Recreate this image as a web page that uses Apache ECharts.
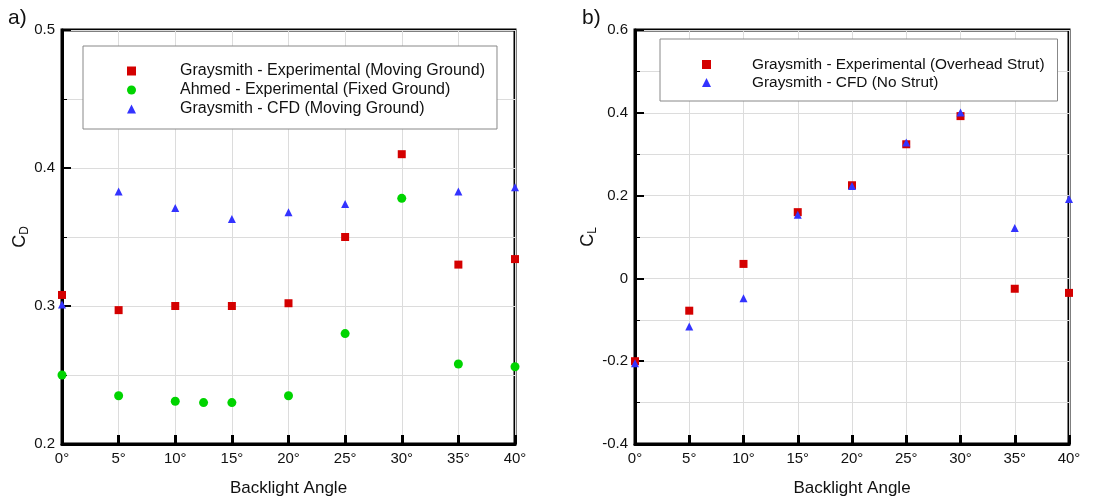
<!DOCTYPE html>
<html>
<head>
<meta charset="utf-8">
<script src="https://cdn.jsdelivr.net/npm/echarts@6/dist/echarts.min.js"></script>
<style>
html,body{margin:0;padding:0;background:#fff;}
#c{width:1104px;height:498px;}
</style>
</head>
<body>
<div id="c"></div>
<script>
// ---- data ----
const angles = [0, 5, 10, 15, 20, 25, 30, 35, 40];
const cdGraysmithExp = [0.308, 0.297, 0.300, 0.300, 0.302, 0.350, 0.410, 0.330, 0.334];
const ahmedAngles = [0, 5, 10, 12.5, 15, 20, 25, 30, 35, 40];
const cdAhmedExp = [0.250, 0.235, 0.231, 0.230, 0.230, 0.235, 0.280, 0.378, 0.258, 0.256];
const cfdAnglesCD = [0, 5, 10, 15, 20, 25, 35, 40];
const cdGraysmithCFD = [0.301, 0.383, 0.371, 0.363, 0.368, 0.374, 0.383, 0.386];
const clGraysmithExp = [-0.200, -0.078, 0.035, 0.160, 0.225, 0.324, 0.392, -0.025, -0.035];
const clGraysmithCFD = [-0.205, -0.116, -0.048, 0.154, 0.223, 0.328, 0.401, 0.122, 0.192];

const namesCD = ['Graysmith - Experimental (Moving Ground)', 'Ahmed - Experimental (Fixed Ground)', 'Graysmith - CFD (Moving Ground)'];
const namesCL = ['Graysmith - Experimental (Overhead Strut)', 'Graysmith - CFD (No Strut)'];

const RED = '#d40000', GREEN = '#00d400', BLUE = '#3333ff';
const FONT = 'Liberation Sans, Arial, sans-serif';

const zip = (xs, ys) => xs.map((x, i) => [x, ys[i]]);

function xAx(gi) {
  return {
    type: 'value', gridIndex: gi, min: 0, max: 40, interval: 5,
    name: 'Backlight Angle', nameLocation: 'middle', nameGap: 36,
    nameTextStyle: {fontFamily: FONT, fontSize: 17, color: '#111'},
    axisLine: {show: true, onZero: false, lineStyle: {color: '#000', width: 3}},
    axisTick: {show: true, inside: true, length: 9, lineStyle: {color: '#000', width: 3}},
    axisLabel: {formatter: v => v + '°', fontFamily: FONT, fontSize: 15, color: '#111', margin: 7},
    splitLine: {show: true, lineStyle: {color: '#dcdcdc', width: 1}}
  };
}
function yAx(gi, min, max, interval, nameRich, gap) {
  return {
    type: 'value', gridIndex: gi, min: min, max: max, interval: interval,
    name: nameRich, nameLocation: 'middle', nameRotate: 90, nameGap: gap,
    nameTextStyle: {fontFamily: FONT, color: '#111', rich: {
      c: {fontSize: 18, fontFamily: FONT, color: '#111'},
      s: {fontSize: 12, fontFamily: FONT, color: '#111', padding: [9, 0, 0, 0]}
    }},
    axisLine: {show: true, onZero: false, lineStyle: {color: '#000', width: 3}},
    axisTick: {show: true, inside: true, length: 9, lineStyle: {color: '#000', width: 2}},
    minorTick: {show: true, splitNumber: 2, length: 5, lineStyle: {color: '#000', width: 1}},
    minorSplitLine: {show: true, lineStyle: {color: '#dcdcdc', width: 1}},
    axisLabel: {fontFamily: FONT, fontSize: 15, color: '#111', margin: 7},
    splitLine: {show: true, lineStyle: {color: '#dcdcdc', width: 1}}
  };
}

const option = {
  backgroundColor: '#fff',
  animation: false,
  textStyle: {fontFamily: FONT},
  grid: [
    {left: 62, top: 30, width: 453, height: 414, outerBoundsMode: 'none', containLabel: false,
     show: true, borderColor: '#000', borderWidth: 3, backgroundColor: 'transparent'},
    {left: 635, top: 30, width: 434, height: 414, outerBoundsMode: 'none', containLabel: false,
     show: true, borderColor: '#000', borderWidth: 3, backgroundColor: 'transparent'}
  ],
  xAxis: [xAx(0), xAx(1)],
  yAxis: [
    yAx(0, 0.2, 0.5, 0.1, '{c|C}{s|D}', 30),
    yAx(1, -0.4, 0.6, 0.2, '{c|C}{s|L}', 27)
  ],
  legend: [
    {
      data: namesCD, orient: 'vertical', left: 83, top: 46,
      padding: [17, 12, 12, 44], itemGap: 3, itemWidth: 9, itemHeight: 9,
      backgroundColor: '#fff', borderColor: '#888', borderWidth: 1, borderRadius: 0,
      textStyle: {fontFamily: FONT, fontSize: 16, color: '#111', padding: [0, 0, 0, 39]},
      selectedMode: false
    },
    {
      data: namesCL, orient: 'vertical', left: 660, top: 39,
      padding: [18, 13, 11, 42], itemGap: 3, itemWidth: 9, itemHeight: 9,
      backgroundColor: '#fff', borderColor: '#888', borderWidth: 1, borderRadius: 0,
      textStyle: {fontFamily: FONT, fontSize: 15.4, color: '#111', padding: [0, 0, 0, 36]},
      selectedMode: false
    }
  ],
  graphic: [
    {type: 'text', left: 8, top: 8, style: {text: 'a)', font: '21px ' + FONT, fill: '#111'}},
    {type: 'text', left: 582, top: 8, style: {text: 'b)', font: '21px ' + FONT, fill: '#111'}}
  ],
  series: [
    {name: namesCD[0], type: 'scatter', xAxisIndex: 0, yAxisIndex: 0, symbol: 'rect', symbolSize: 8, clip: false,
     itemStyle: {color: RED, opacity: 1}, data: zip(angles, cdGraysmithExp), z: 3},
    {name: namesCD[1], type: 'scatter', xAxisIndex: 0, yAxisIndex: 0, symbol: 'circle', symbolSize: 9, clip: false,
     itemStyle: {color: GREEN, opacity: 1}, data: zip(ahmedAngles, cdAhmedExp), z: 4},
    {name: namesCD[2], type: 'scatter', xAxisIndex: 0, yAxisIndex: 0, symbol: 'triangle', symbolSize: 8, clip: false,
     itemStyle: {color: BLUE, opacity: 1}, data: zip(cfdAnglesCD, cdGraysmithCFD), z: 2},
    {name: namesCL[0], type: 'scatter', xAxisIndex: 1, yAxisIndex: 1, symbol: 'rect', symbolSize: 8, clip: false,
     itemStyle: {color: RED, opacity: 1}, data: zip(angles, clGraysmithExp), z: 3},
    {name: namesCL[1], type: 'scatter', xAxisIndex: 1, yAxisIndex: 1, symbol: 'triangle', symbolSize: 8, clip: false,
     itemStyle: {color: BLUE, opacity: 1}, data: zip(angles, clGraysmithCFD), z: 4}
  ]
};

const chart = echarts.init(document.getElementById('c'), null, {renderer: 'canvas'});
chart.setOption(option);
</script>
</body>
</html>
